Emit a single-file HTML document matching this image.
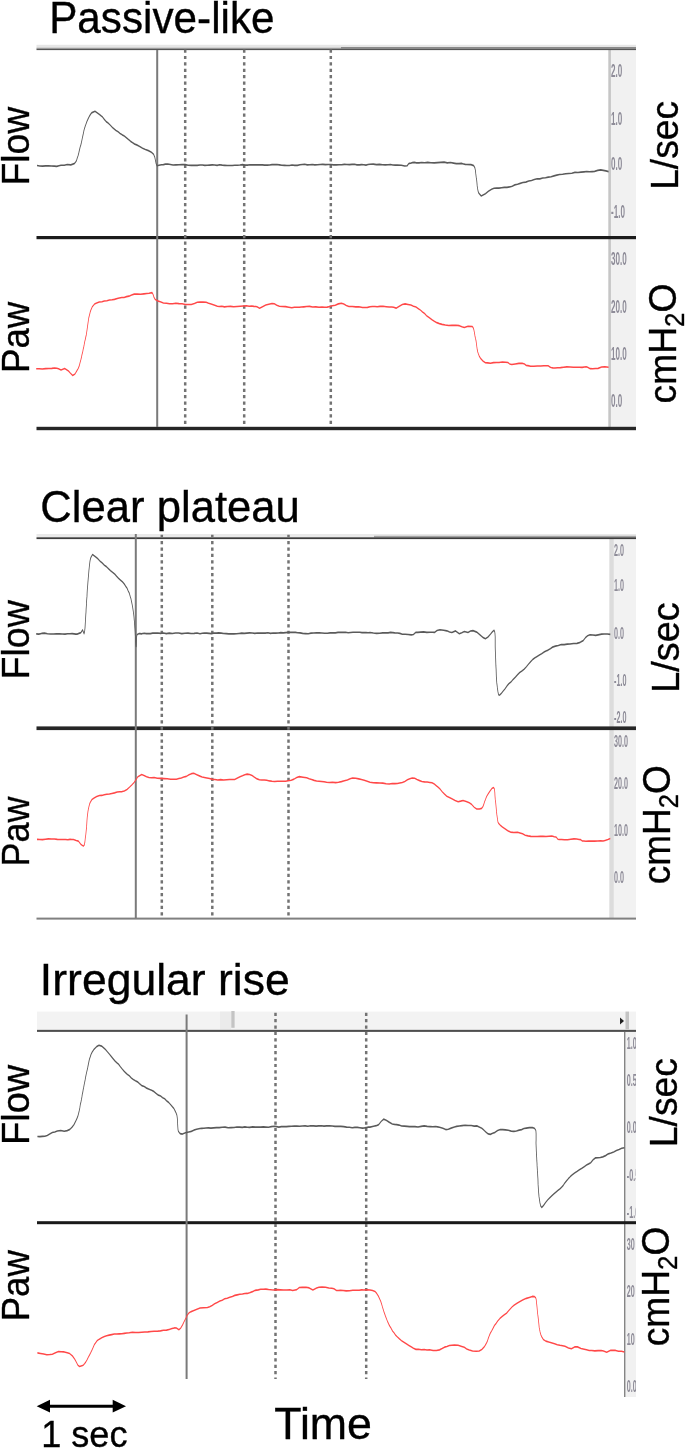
<!DOCTYPE html>
<html><head><meta charset="utf-8"><style>
html,body{margin:0;padding:0;background:#fff;width:685px;height:1448px;overflow:hidden}
svg{display:block;will-change:transform}
text{font-family:"Liberation Sans",sans-serif}
.lb{stroke:#000;stroke-width:0.35px}
</style></head><body>
<svg width="685" height="1448" viewBox="0 0 685 1448">
<text class="lb" x="49.2" y="33.2" font-size="44" textLength="225.33" lengthAdjust="spacingAndGlyphs">Passive-like</text>
<text class="lb" x="40.36" y="521.5" font-size="44" textLength="259.5" lengthAdjust="spacingAndGlyphs">Clear plateau</text>
<text class="lb" x="39.89" y="995.2" font-size="44" textLength="249.91" lengthAdjust="spacingAndGlyphs">Irregular rise</text>
<rect x="609" y="49" width="27" height="380" fill="#f1f1f1"/>
<rect x="608.3" y="49" width="2.6" height="380" fill="#c6c6c6"/>
<rect x="36.5" y="44.8" width="599.5" height="2.5" fill="#e6e6e6"/>
<rect x="36.5" y="47.3" width="304.5" height="1.2" fill="#c4c4c4"/>
<rect x="341" y="47" width="295" height="1.5" fill="#8a8a8a"/>
<rect x="36.5" y="48.5" width="599.5" height="1.6" fill="#555"/>
<rect x="36.5" y="236" width="599.5" height="3.2" fill="#1c1c1c"/>
<rect x="36.5" y="426.8" width="599.5" height="3.4" fill="#262626"/>
<line x1="157.2" y1="50" x2="157.2" y2="427" stroke="#7a7a7a" stroke-width="2"/>
<line x1="185.2" y1="49.5" x2="185.2" y2="427" stroke="#737373" stroke-width="2.5" stroke-dasharray="3.2 3.2"/>
<line x1="244.2" y1="49.5" x2="244.2" y2="427" stroke="#737373" stroke-width="2.5" stroke-dasharray="3.2 3.2"/>
<line x1="330.8" y1="49.5" x2="330.8" y2="427" stroke="#737373" stroke-width="2.5" stroke-dasharray="3.2 3.2"/>
<filter id="bl" x="-20%" y="-20%" width="140%" height="140%"><feGaussianBlur stdDeviation="0.45"/></filter>
<text transform="translate(611,77.0) scale(0.45,1)" font-size="18" style="fill:#8e8c98;font-weight:bold" filter="url(#bl)">2.0</text>
<text transform="translate(611,124.9) scale(0.45,1)" font-size="18" style="fill:#8e8c98;font-weight:bold" filter="url(#bl)">1.0</text>
<text transform="translate(611,169.9) scale(0.45,1)" font-size="18" style="fill:#8e8c98;font-weight:bold" filter="url(#bl)">0.0</text>
<text transform="translate(611,217.8) scale(0.45,1)" font-size="18" style="fill:#8e8c98;font-weight:bold" filter="url(#bl)">-1.0</text>
<text transform="translate(611,264.9) scale(0.45,1)" font-size="18" style="fill:#8e8c98;font-weight:bold" filter="url(#bl)">30.0</text>
<text transform="translate(611,312.8) scale(0.45,1)" font-size="18" style="fill:#8e8c98;font-weight:bold" filter="url(#bl)">20.0</text>
<text transform="translate(611,360.0) scale(0.45,1)" font-size="18" style="fill:#8e8c98;font-weight:bold" filter="url(#bl)">10.0</text>
<text transform="translate(611,407.3) scale(0.45,1)" font-size="18" style="fill:#8e8c98;font-weight:bold" filter="url(#bl)">0.0</text>
<rect x="609.4" y="539" width="26.6" height="380" fill="#f2f2f2"/>
<rect x="609.4" y="539" width="4.3" height="380" fill="#dcdcdc"/>
<rect x="36.5" y="534" width="599.5" height="3.3" fill="#e9e9e9"/>
<rect x="374" y="535.8" width="262" height="1.6" fill="#a4a4a4"/>
<rect x="36.5" y="537.3" width="599.5" height="1.8" fill="#3c3c3c"/>
<rect x="36.5" y="726.4" width="599.5" height="3.7" fill="#262626"/>
<rect x="36.5" y="917.6" width="599.5" height="2" fill="#808080"/>
<line x1="135.8" y1="534" x2="135.8" y2="918" stroke="#7a7a7a" stroke-width="2"/>
<line x1="161.8" y1="534.64" x2="161.8" y2="918" stroke="#737373" stroke-width="2.5" stroke-dasharray="3.2 3.2"/>
<line x1="212.3" y1="534.64" x2="212.3" y2="918" stroke="#737373" stroke-width="2.5" stroke-dasharray="3.2 3.2"/>
<line x1="288.5" y1="534.64" x2="288.5" y2="918" stroke="#737373" stroke-width="2.5" stroke-dasharray="3.2 3.2"/>
<text transform="translate(614,555.9) scale(0.45,1)" font-size="16" style="fill:#8e8c98;font-weight:bold" filter="url(#bl)">2.0</text>
<text transform="translate(614,591.3) scale(0.45,1)" font-size="16" style="fill:#8e8c98;font-weight:bold" filter="url(#bl)">1.0</text>
<text transform="translate(614,639.1) scale(0.45,1)" font-size="16" style="fill:#8e8c98;font-weight:bold" filter="url(#bl)">0.0</text>
<text transform="translate(614,686.3) scale(0.45,1)" font-size="16" style="fill:#8e8c98;font-weight:bold" filter="url(#bl)">-1.0</text>
<text transform="translate(614,723.0) scale(0.45,1)" font-size="16" style="fill:#8e8c98;font-weight:bold" filter="url(#bl)">-2.0</text>
<text transform="translate(614,746.8) scale(0.45,1)" font-size="16" style="fill:#8e8c98;font-weight:bold" filter="url(#bl)">30.0</text>
<text transform="translate(614,788.9) scale(0.45,1)" font-size="16" style="fill:#8e8c98;font-weight:bold" filter="url(#bl)">20.0</text>
<text transform="translate(614,836.0) scale(0.45,1)" font-size="16" style="fill:#8e8c98;font-weight:bold" filter="url(#bl)">10.0</text>
<text transform="translate(614,883.1) scale(0.45,1)" font-size="16" style="fill:#8e8c98;font-weight:bold" filter="url(#bl)">0.0</text>
<rect x="37" y="1011.6" width="599" height="17.6" fill="#f3f3f3"/>
<rect x="220" y="1011.6" width="11" height="17.6" fill="#ebebeb"/>
<rect x="231.3" y="1011" width="3.3" height="16.8" fill="#c4c4c4"/>
<rect x="625.5" y="1011.6" width="3.5" height="17.6" fill="#c4c4c4"/>
<path d="M620,1017.5 L624,1021 L620,1024.5 Z" fill="#222"/>
<rect x="37" y="1029.8" width="599" height="2.1" fill="#4e4e4e"/>
<rect x="625" y="1032" width="11" height="365" fill="#f1f1f1"/>
<rect x="624" y="1032" width="1.4" height="365" fill="#858585"/>
<rect x="37" y="1221.2" width="599" height="3" fill="#1a1a1a"/>
<line x1="186.6" y1="1014.5" x2="186.6" y2="1379" stroke="#7a7a7a" stroke-width="2"/>
<line x1="275.5" y1="1012.7" x2="275.5" y2="1379" stroke="#737373" stroke-width="2.5" stroke-dasharray="3.2 3.2"/>
<line x1="366.2" y1="1012.7" x2="366.2" y2="1379" stroke="#737373" stroke-width="2.5" stroke-dasharray="3.2 3.2"/>
<clipPath id="c3"><rect x="624" y="1030" width="12" height="370"/></clipPath>
<g clip-path="url(#c3)"><text transform="translate(626.8,1048.7) scale(0.45,1)" font-size="16" style="fill:#8e8c98;font-weight:bold" filter="url(#bl)">1.0</text>
<text transform="translate(626.8,1085.5) scale(0.45,1)" font-size="16" style="fill:#8e8c98;font-weight:bold" filter="url(#bl)">0.5</text>
<text transform="translate(626.8,1133.3) scale(0.45,1)" font-size="16" style="fill:#8e8c98;font-weight:bold" filter="url(#bl)">0.0</text>
<text transform="translate(626.8,1181.1) scale(0.45,1)" font-size="16" style="fill:#8e8c98;font-weight:bold" filter="url(#bl)">-0.5</text>
<text transform="translate(626.8,1217.9) scale(0.45,1)" font-size="16" style="fill:#8e8c98;font-weight:bold" filter="url(#bl)">-1.0</text><text transform="translate(626.8,1249.5) scale(0.45,1)" font-size="16" style="fill:#8e8c98;font-weight:bold" filter="url(#bl)">30</text>
<text transform="translate(626.8,1296.7) scale(0.45,1)" font-size="16" style="fill:#8e8c98;font-weight:bold" filter="url(#bl)">20</text>
<text transform="translate(626.8,1344.5) scale(0.45,1)" font-size="16" style="fill:#8e8c98;font-weight:bold" filter="url(#bl)">10</text>
<text transform="translate(626.8,1392.4) scale(0.45,1)" font-size="16" style="fill:#8e8c98;font-weight:bold" filter="url(#bl)">0.0</text></g>
<g transform="scale(1,2.0)">
<polyline points="37.0,82.74 39.8,82.98 42.6,83.09 45.6,82.93 48.5,82.97 51.4,82.98 54.2,83.08 56.7,83.17 59.0,82.87 61.0,82.64 64.3,82.60 67.2,82.23 70.8,82.44 74.2,81.83 75.4,81.19 76.5,80.33 77.3,78.94 78.1,77.81 78.8,76.47 79.6,74.72 80.2,73.43 80.9,72.36 81.4,71.33 82.0,69.88 82.6,68.40 83.2,67.08 83.8,65.61 84.4,64.37 85.1,63.30 85.8,62.32 86.9,60.78 88.2,59.32 89.5,58.00 90.7,57.04 92.0,56.29 95.0,55.65 97.1,56.35 99.5,57.23 101.0,57.91 102.6,58.54 104.4,59.74 106.2,60.82 108.1,61.53 110.0,62.44 111.9,63.45 113.9,64.36 116.0,65.28 118.1,65.87 120.1,66.71 122.2,67.42 124.3,68.00 126.4,68.83 128.5,69.80 130.6,70.68 132.7,71.35 134.7,72.06 136.7,72.44 139.7,73.23 142.6,74.14 145.4,74.78 148.4,75.33 151.4,76.14 153.6,77.11 154.7,78.47 155.3,79.80 156.0,81.61 157.0,82.89 159.0,82.62 160.1,82.49 161.6,82.35 163.4,82.31 165.5,82.08 167.8,81.98 170.4,82.23 173.1,82.49 176.0,82.46 179.0,82.37 182.0,82.24 185.1,82.34 188.2,82.62 191.3,82.67 194.3,82.60 197.2,82.72 200.0,82.49 202.4,82.50 204.8,82.70 207.2,82.64 209.7,82.55 212.2,82.42 214.6,82.48 217.1,82.70 219.6,82.38 222.2,82.57 224.7,82.68 227.2,82.76 229.8,82.74 232.3,82.76 234.8,82.64 237.4,82.60 239.9,82.51 242.5,82.31 245.0,82.57 247.5,82.57 250.0,82.40 252.5,82.45 255.0,82.47 257.4,82.42 259.9,82.39 262.3,82.46 264.7,82.54 267.2,82.57 269.6,82.52 272.0,82.30 274.5,82.28 276.9,82.25 279.4,82.41 281.9,82.62 284.4,82.70 286.9,82.74 289.5,82.76 292.0,82.52 294.7,82.67 297.3,82.66 300.0,82.39 302.3,82.23 304.7,82.14 307.2,82.43 309.7,82.35 312.2,82.24 314.8,82.42 317.4,82.38 320.1,82.23 322.8,82.20 325.5,82.34 328.2,82.25 330.9,82.25 333.6,82.44 336.3,82.42 339.0,82.35 341.6,82.38 344.3,82.19 346.9,82.26 349.5,82.30 352.0,82.22 354.5,82.14 356.9,82.46 359.3,82.44 361.6,82.29 363.8,82.39 366.0,82.54 368.0,82.25 370.0,82.11 373.3,82.09 376.5,82.33 379.5,82.18 382.5,82.35 385.3,82.41 388.0,82.38 390.5,82.23 392.9,82.50 395.2,82.58 397.3,82.52 401.3,82.60 404.8,83.01 407.2,82.87 408.5,81.92 409.4,81.66 410.6,81.62 412.3,81.29 414.2,81.19 416.5,81.42 419.0,81.47 421.7,81.23 424.6,81.36 427.7,81.18 430.9,81.39 434.2,81.42 437.5,81.31 440.8,81.20 444.1,81.07 447.3,81.43 450.5,81.27 453.5,81.58 456.3,81.84 459.0,81.83 461.4,81.69 463.5,81.97 465.3,82.20 466.8,82.23 471.0,82.29 473.7,82.80 474.8,83.78 475.4,85.14 475.8,86.95 476.2,88.57 476.6,89.79 476.9,91.20 477.2,92.95 477.6,94.34 478.1,95.66 478.7,96.54 481.2,98.01 485.4,96.89 488.4,95.59 491.6,94.62 494.0,94.13 496.6,94.08 498.9,94.03 501.6,93.85 504.3,93.68 507.0,93.67 509.6,93.47 512.2,93.13 514.8,92.42 517.5,92.11 520.2,91.71 522.9,91.25 525.8,91.07 528.7,90.48 531.5,90.26 534.3,89.72 537.1,89.37 539.9,89.41 542.7,88.98 545.5,88.87 548.3,88.59 551.1,88.40 554.0,87.95 556.8,87.57 559.5,87.23 562.6,87.15 565.7,86.85 568.7,86.74 571.8,86.60 574.9,86.21 578.0,86.25 581.0,86.08 584.0,85.91 586.8,85.73 589.5,85.89 592.2,85.82 594.6,85.71 597.7,85.16 600.7,84.97 603.3,85.22 605.9,85.43 608.6,85.79" fill="none" stroke="#5a5a5a" stroke-width="0.82" stroke-linejoin="round"/>
<polyline points="36.2,316.96 38.8,317.06 41.6,316.72 44.5,316.58 47.5,316.86 50.5,316.98 53.5,317.02 56.5,316.89 59.4,316.97 62.2,317.02 65.0,317.04 67.6,316.85 70.0,316.87 72.1,316.84 74.1,316.94 75.7,317.08 77.1,317.08 80.9,316.33 82.6,314.97 84.1,316.83 84.4,316.30 84.7,315.27 85.0,314.06 85.2,312.40 85.4,310.61 85.6,309.02 85.8,307.26 86.0,306.10 86.1,304.72 86.3,303.25 86.5,301.95 86.6,300.49 86.8,299.21 87.0,298.07 87.1,296.64 87.3,294.99 87.5,293.81 87.7,292.51 87.9,291.21 88.1,290.05 88.3,288.86 88.6,287.20 88.9,285.35 89.2,283.92 89.5,282.49 89.9,280.80 90.3,279.74 90.8,278.86 92.5,277.26 95.8,278.49 97.6,279.28 99.8,280.44 102.0,281.41 104.4,282.60 106.4,283.31 108.5,284.39 110.6,285.42 112.8,286.22 114.9,287.15 116.8,288.23 118.7,289.21 120.6,290.10 122.4,290.92 124.1,291.87 125.5,292.98 127.0,294.05 128.2,295.51 129.3,296.60 130.2,298.19 131.0,299.47 131.7,301.20 132.2,302.37 132.6,303.51 133.0,304.74 133.4,306.06 133.7,307.29 134.0,308.54 134.2,309.75 134.5,311.21 134.7,312.96 134.9,314.24 135.1,315.58 135.3,317.52 135.5,319.33 135.6,321.05 135.8,322.11 136.0,323.12 136.2,323.20 136.3,322.48 136.4,320.42 136.6,318.26 137.2,317.23 139.2,316.76 140.1,316.80 141.3,316.95 142.7,316.73 144.3,316.60 146.1,316.83 148.1,316.73 150.3,316.81 152.7,316.54 155.2,316.55 157.8,316.48 160.5,316.66 163.4,316.50 166.3,316.81 169.3,316.55 172.4,316.74 175.5,316.52 178.6,316.52 181.8,316.78 184.9,316.61 188.0,316.54 191.1,316.74 194.1,316.70 197.1,316.52 200.0,316.85 202.2,316.64 204.5,316.48 206.8,316.53 209.1,316.68 211.4,316.81 213.8,316.58 216.3,316.57 218.7,316.42 221.2,316.53 223.7,316.73 226.2,316.81 228.7,316.92 231.3,316.91 233.9,316.94 236.5,316.89 239.1,316.75 241.7,316.57 244.3,316.67 246.9,316.56 249.6,316.41 252.2,316.48 254.8,316.71 257.5,316.48 260.1,316.57 262.7,316.53 265.3,316.56 267.9,316.40 270.5,316.69 273.1,316.51 275.7,316.58 278.2,316.52 280.7,316.31 283.2,316.45 285.7,316.32 288.2,316.22 290.6,316.16 293.0,316.18 295.4,316.16 297.7,316.39 300.0,316.45 302.7,316.69 305.5,316.78 308.2,316.85 311.0,316.54 313.7,316.48 316.5,316.36 319.2,316.45 321.9,316.50 324.7,316.61 327.4,316.62 330.1,316.42 332.7,316.39 335.4,316.42 338.0,316.19 340.6,316.10 343.1,316.21 345.7,316.13 348.1,316.37 350.6,316.27 353.0,316.15 355.3,316.13 357.6,316.14 359.8,316.14 362.0,316.28 364.1,316.32 366.1,316.27 368.1,316.40 370.0,316.27 373.4,316.52 376.6,316.66 379.7,316.61 382.7,316.46 385.5,316.41 388.1,316.43 390.5,316.22 392.7,316.31 394.8,316.45 397.6,316.52 399.9,316.66 402.3,317.10 405.1,317.15 408.2,317.27 411.2,317.46 413.4,317.24 415.9,316.12 417.8,316.21 420.4,316.06 423.6,315.91 426.8,316.20 430.0,316.12 432.6,316.12 434.5,316.21 437.0,315.26 439.9,314.87 443.6,315.10 446.9,315.41 449.6,315.99 451.9,316.24 455.6,315.46 459.3,316.89 461.8,316.38 464.3,315.74 468.0,316.27 470.5,315.52 473.0,315.30 476.7,316.04 478.7,316.91 481.0,317.91 483.3,318.83 485.4,319.34 488.0,318.53 490.3,317.18 492.4,315.88 494.1,315.18 494.7,315.93 495.0,316.92 495.2,318.41 495.2,319.94 495.2,321.34 495.2,323.19 495.3,324.93 495.4,326.15 495.5,327.36 495.6,328.62 495.7,330.04 495.8,331.66 495.9,332.98 496.1,334.50 496.2,335.96 496.3,337.58 496.4,338.97 496.6,340.32 496.8,341.47 497.0,342.26 497.4,343.96 497.9,345.76 498.4,347.02 499.0,347.65 500.0,347.33 501.2,346.81 502.9,345.71 504.8,344.56 506.9,343.03 508.8,341.90 510.9,341.04 513.1,339.71 515.3,338.65 517.5,337.42 519.7,336.25 521.9,335.48 524.1,334.58 526.3,333.43 528.5,332.05 530.6,330.85 532.8,329.69 535.0,328.88 537.1,328.22 539.4,327.50 541.6,326.90 543.8,326.08 546.0,325.50 548.1,325.04 550.3,324.41 552.5,323.57 555.4,323.07 558.3,322.76 561.3,322.28 564.2,322.29 567.2,322.08 570.0,322.02 573.6,321.75 577.0,321.68 580.2,321.16 583.2,320.30 585.3,318.92 587.6,317.88 590.0,317.41 592.9,317.49 595.7,317.70 598.1,317.42 601.6,317.07 604.2,317.02 607.3,317.02 610.3,317.17" fill="none" stroke="#5a5a5a" stroke-width="0.82" stroke-linejoin="round"/>
<polyline points="37.4,568.23 39.8,568.28 42.3,568.21 44.9,568.11 47.2,567.78 49.7,567.01 52.3,566.26 54.8,566.00 57.3,565.49 60.8,565.27 64.2,565.61 67.2,565.30 69.9,564.68 72.2,563.48 74.0,562.28 75.7,560.60 77.1,559.06 77.9,558.05 78.6,556.70 79.2,555.41 79.8,554.01 80.3,552.31 80.9,551.06 81.4,549.87 81.9,548.52 82.3,547.08 82.8,546.10 83.2,544.79 83.7,543.62 84.1,542.49 84.6,541.26 85.1,540.05 85.6,538.57 86.1,537.38 86.7,536.01 87.2,534.94 87.7,533.79 88.3,532.31 88.9,530.82 89.5,529.46 90.2,528.50 91.0,527.24 92.0,526.22 94.1,524.59 96.6,523.31 99.0,522.64 101.6,523.05 104.4,524.29 106.0,525.04 107.7,526.08 109.4,527.06 111.3,528.23 113.1,529.35 115.0,530.50 116.8,531.41 118.6,532.12 120.3,533.30 122.1,534.45 123.9,535.49 125.6,536.34 127.5,537.27 129.3,537.92 131.3,538.95 133.3,539.73 135.4,540.36 137.5,540.93 139.6,541.91 141.7,542.80 144.2,543.23 146.6,544.07 149.1,544.62 151.6,545.13 154.1,545.83 156.2,546.71 158.4,547.57 160.6,548.00 162.7,548.85 164.7,549.40 166.5,550.34 168.6,551.19 170.6,552.32 172.4,553.40 173.9,554.24 175.2,555.54 176.1,556.49 176.9,557.64 177.3,559.00 177.5,560.28 177.6,561.82 177.8,563.41 178.0,564.85 178.4,565.68 180.1,566.81 182.4,567.03 185.5,566.36 188.8,566.02 191.3,565.71 193.8,565.09 196.6,564.61 200.0,564.27 201.8,564.21 203.8,564.11 206.0,564.02 208.4,563.97 210.9,564.07 213.6,563.91 216.4,563.78 219.2,563.84 222.2,563.65 225.1,563.58 228.1,563.85 231.0,563.78 234.0,563.76 236.9,563.51 239.7,563.56 242.3,563.66 244.9,563.45 247.3,563.61 249.6,563.68 252.7,563.43 255.5,563.55 258.2,563.52 260.7,563.59 263.3,563.47 265.8,563.56 268.5,563.60 271.3,563.29 274.4,563.13 276.6,563.32 278.9,563.54 281.3,563.31 283.8,563.27 286.3,563.30 288.9,563.17 291.5,563.11 294.2,563.05 296.9,563.02 299.6,563.10 302.4,562.99 305.1,562.96 307.9,563.12 310.6,562.85 313.4,562.96 316.1,563.08 318.8,562.95 321.4,562.85 324.0,563.06 326.7,562.93 329.4,562.87 332.2,562.99 335.0,563.21 337.9,563.10 340.8,563.18 343.7,563.28 346.6,563.59 349.4,563.62 352.2,563.85 354.9,563.69 357.4,563.70 359.9,563.86 362.3,564.04 364.5,563.92 366.5,563.73 368.4,563.53 370.0,563.56 373.6,563.10 376.3,562.84 378.7,562.32 381.2,560.69 383.6,559.57 386.2,560.10 389.1,561.06 392.3,561.99 394.5,562.16 396.7,562.28 399.1,562.53 401.6,562.98 404.3,563.06 407.2,563.19 409.5,563.29 412.2,563.32 415.0,563.31 418.0,563.49 421.1,563.20 424.2,562.95 427.2,563.21 430.2,563.30 432.9,563.40 435.5,563.23 437.7,563.43 439.5,563.63 442.9,564.10 445.7,564.78 448.3,564.64 451.1,564.04 454.4,563.50 456.6,563.21 459.3,563.02 462.1,562.83 465.1,562.63 468.2,562.77 471.3,562.74 474.2,563.03 476.9,562.96 479.2,563.50 481.8,564.16 484.1,565.18 486.1,566.17 488.2,566.96 490.3,567.20 492.7,566.66 495.1,566.17 497.6,565.26 500.3,564.75 502.8,564.83 505.5,564.96 508.3,565.13 511.2,565.57 513.9,565.67 516.4,565.50 519.1,565.07 521.6,564.79 523.9,564.24 526.3,564.05 529.4,563.83 532.4,563.80 534.5,564.15 535.6,564.92 535.9,565.48 536.1,566.78 536.1,568.31 536.1,569.89 536.0,571.53 536.1,572.76 536.2,573.97 536.3,575.31 536.4,576.26 536.5,577.50 536.7,578.79 536.8,580.24 537.0,581.59 537.1,582.96 537.3,584.44 537.4,585.46 537.6,586.61 537.7,587.79 537.9,589.13 538.0,590.46 538.1,592.21 538.3,593.69 538.4,594.71 538.6,596.01 538.8,597.13 539.0,598.20 539.3,599.21 539.9,601.27 540.7,602.99 541.7,603.71 543.5,602.76 545.7,601.19 547.7,599.93 549.8,598.84 552.1,597.80 554.0,596.91 556.1,596.00 558.1,595.18 560.1,594.37 561.8,593.54 563.4,592.59 565.0,591.34 566.6,590.39 568.2,589.42 570.3,588.30 572.3,587.34 574.6,586.48 576.9,585.76 579.4,584.85 581.9,584.13 584.2,583.33 586.5,582.51 588.7,581.94 590.7,581.37 593.1,579.91 595.5,578.94 600.3,578.76 602.8,578.44 605.6,577.82 608.3,576.92 611.0,576.50 613.7,576.00 616.4,575.26 619.1,574.75 621.7,574.10 624.4,573.85" fill="none" stroke="#5a5a5a" stroke-width="0.82" stroke-linejoin="round"/>
<polyline points="36.2,184.38 39.1,184.38 42.3,184.49 45.6,184.32 48.8,184.22 51.8,184.20 54.5,184.04 56.8,184.14 58.5,184.33 61.0,185.03 64.7,184.20 68.5,185.52 70.6,186.70 72.7,187.76 75.0,187.00 77.1,185.16 78.2,184.26 79.2,183.04 80.0,181.49 80.9,179.84 81.5,178.57 82.0,177.28 82.6,176.21 83.1,174.85 83.7,173.56 84.2,172.28 84.7,170.88 85.3,169.70 85.8,168.44 86.3,167.41 86.7,166.06 87.1,164.72 87.5,163.28 87.9,161.92 88.3,160.48 88.7,159.05 89.2,158.04 89.7,157.02 90.2,156.02 90.8,155.12 92.4,153.30 94.5,152.06 96.7,151.46 99.2,151.01 102.0,150.89 104.3,150.54 106.9,150.38 109.5,149.97 112.1,149.87 114.4,149.68 118.1,149.13 121.8,148.79 124.1,148.74 126.5,148.31 129.0,148.07 131.6,147.55 134.2,147.06 137.3,147.02 140.6,147.09 143.9,146.93 146.8,146.75 149.1,146.64 152.1,146.31 153.1,147.25 153.9,148.56 155.3,149.81 157.5,150.43 160.3,150.88 163.4,151.51 166.5,151.66 169.5,151.87 172.6,151.84 175.8,151.66 178.9,151.82 182.1,151.83 185.3,152.21 188.4,152.25 191.3,152.29 194.4,151.79 197.3,151.15 200.0,151.00 203.1,151.06 206.2,151.16 208.6,151.67 211.1,152.00 214.0,152.52 217.4,153.11 219.4,153.25 221.8,153.12 224.5,153.43 227.4,153.27 230.5,153.19 233.7,153.35 237.0,153.23 240.2,153.14 243.4,153.00 246.4,152.92 249.2,153.08 251.7,153.04 253.9,153.19 255.7,153.23 257.0,153.35 259.6,154.16 262.5,153.40 265.8,152.47 268.9,152.12 272.0,151.76 274.3,151.92 276.8,152.66 279.4,153.17 282.3,153.24 285.6,153.32 288.8,153.62 291.8,153.84 294.3,153.58 296.5,153.66 299.3,153.64 301.3,153.54 303.8,153.44 306.6,153.28 309.6,153.19 312.7,153.54 315.9,153.44 319.0,153.58 322.0,153.47 324.7,153.62 327.1,153.57 329.0,153.36 332.4,152.91 335.2,152.66 338.3,151.94 341.4,151.61 343.8,152.04 346.3,152.79 348.9,153.25 352.3,153.26 355.8,153.45 358.8,153.36 362.5,153.78 364.9,153.78 367.5,153.69 370.0,153.41 372.4,153.29 375.0,153.27 377.2,153.35 380.0,153.18 383.1,153.17 386.2,153.37 389.2,153.53 391.8,153.53 393.6,153.62 396.1,154.07 398.9,153.20 402.3,152.22 405.1,151.94 408.0,152.26 410.9,152.54 413.5,153.13 416.0,153.48 418.4,154.32 420.5,155.07 422.5,156.01 424.6,156.77 426.9,158.03 429.4,158.86 432.0,159.88 434.3,160.63 436.8,161.32 439.4,161.81 442.0,162.18 445.3,162.53 448.7,162.77 451.9,162.68 455.8,162.66 459.3,162.82 461.9,163.41 464.3,163.70 468.0,163.16 472.2,163.23 473.2,163.86 473.9,164.98 474.4,166.28 474.9,167.80 475.5,169.26 476.0,170.27 476.4,171.70 476.8,173.26 477.2,174.67 477.7,175.93 478.4,176.95 479.2,178.03 480.9,179.40 482.9,180.47 485.4,181.40 487.7,181.45 490.5,181.63 493.4,181.31 496.4,181.29 499.0,181.22 502.4,181.04 505.5,181.09 507.9,181.21 509.6,181.95 511.8,182.23 515.2,181.98 518.9,181.68 522.2,181.66 524.5,181.98 526.3,182.72 528.0,182.82 530.6,183.13 533.8,183.13 537.3,182.98 540.7,183.03 543.9,182.83 546.5,182.90 548.2,182.87 549.9,183.48 551.1,183.75 552.8,183.94 555.0,184.01 557.6,183.83 560.5,183.80 563.6,183.64 566.8,183.45 570.1,183.47 573.4,183.59 576.5,183.64 579.4,183.60 582.1,183.69 584.4,183.50 586.3,183.42 587.6,183.58 590.2,184.32 592.6,184.36 595.5,184.29 598.1,184.19 601.6,183.54 604.9,183.41 608.6,183.65" fill="none" stroke="#ff4848" stroke-width="0.78" stroke-linejoin="round"/>
<polyline points="37.0,419.69 39.7,419.77 42.5,419.81 45.4,419.61 48.4,419.45 51.4,419.51 54.4,419.50 57.3,419.70 60.2,419.76 62.9,419.76 65.5,419.76 67.8,419.83 70.0,419.69 71.8,419.78 73.4,419.78 76.2,420.30 78.4,420.56 81.1,422.28 83.3,423.06 84.3,422.50 84.9,420.94 85.3,419.04 85.8,417.30 86.1,415.85 86.4,414.39 86.6,413.23 86.8,411.70 87.0,410.01 87.2,408.79 87.5,407.49 87.9,405.91 88.3,404.75 89.0,403.15 89.7,401.82 90.7,400.78 92.0,399.70 94.1,399.03 96.7,398.29 99.5,397.78 101.8,397.70 104.2,397.40 106.8,397.16 109.4,397.01 111.9,396.75 114.5,396.43 117.2,396.00 119.8,395.92 122.2,395.80 124.3,395.53 127.0,394.73 129.3,393.70 131.9,392.44 134.2,391.21 136.0,389.82 137.9,388.35 141.7,387.29 144.0,387.71 146.6,388.39 148.9,388.77 151.5,388.87 154.1,388.78 157.3,389.13 160.6,389.18 164.0,389.31 167.3,389.37 170.6,389.58 173.9,389.61 176.4,389.63 178.9,389.21 181.3,389.00 183.8,388.55 186.4,388.19 189.0,387.36 191.5,386.82 193.8,386.65 196.8,387.36 200.0,388.06 202.1,388.47 204.4,388.71 206.9,388.97 209.6,389.28 212.4,389.69 214.9,389.73 217.7,389.98 220.6,389.82 223.6,390.04 226.6,389.91 229.5,389.73 232.2,389.77 234.7,389.74 237.5,389.03 240.0,388.38 242.4,387.92 244.8,387.34 247.1,387.07 249.6,387.21 252.1,387.75 254.5,388.64 257.1,389.44 259.4,389.88 261.8,390.01 264.3,389.97 266.8,390.13 269.5,390.45 272.0,390.66 274.7,390.72 277.5,390.61 280.3,390.66 283.0,390.63 285.7,390.60 288.1,390.33 291.2,390.10 294.0,389.56 296.7,388.71 299.3,388.31 303.0,388.59 306.7,388.86 309.1,389.38 311.6,389.72 314.1,390.18 316.6,390.54 319.0,390.62 321.5,390.77 324.0,390.89 326.6,391.15 329.4,391.29 332.4,391.13 335.5,391.31 338.5,391.12 341.4,390.81 344.4,390.38 347.3,389.99 350.1,389.35 352.6,389.00 355.7,389.10 358.8,389.44 361.4,389.75 364.2,390.09 367.2,390.59 370.0,391.10 373.3,391.38 376.5,391.45 379.9,391.46 382.9,391.57 386.1,391.88 389.3,392.01 392.3,391.79 394.9,391.82 397.4,391.76 399.8,391.50 402.3,391.21 404.8,390.72 407.4,389.92 409.8,389.39 412.2,389.00 414.7,389.12 417.0,389.76 419.6,390.31 421.9,390.78 424.5,390.95 427.2,391.03 429.8,391.22 432.0,391.34 434.3,392.02 436.3,392.86 438.2,393.64 440.3,394.66 442.3,395.93 444.4,397.03 446.8,398.09 449.4,398.76 451.9,399.37 455.1,400.22 458.1,400.83 460.6,400.57 463.1,400.21 466.2,400.73 469.3,401.41 471.8,402.30 474.3,403.69 476.7,404.54 479.3,404.54 481.7,404.19 482.9,403.36 483.8,402.14 484.6,400.81 485.5,399.70 486.6,398.26 488.3,396.84 490.3,395.30 492.2,394.09 493.6,393.78 494.4,394.41 494.8,396.16 495.0,398.01 495.3,399.95 495.6,400.98 495.9,402.42 496.2,404.02 496.5,405.74 496.8,407.12 497.2,408.58 497.6,410.02 498.0,411.13 498.5,411.64 500.0,412.46 502.4,413.54 505.3,414.46 507.8,415.39 510.5,416.05 513.8,416.21 517.5,416.09 520.0,416.47 522.6,416.92 525.2,417.60 528.0,417.93 530.9,418.18 534.0,418.24 537.1,418.24 540.3,418.20 543.0,418.20 546.0,418.28 549.0,418.17 551.9,418.04 554.3,418.35 556.0,418.46 557.8,419.58 559.3,419.73 561.6,419.71 564.4,419.86 567.6,419.90 570.8,419.65 574.0,419.43 576.8,419.53 579.1,419.71 580.6,419.81 582.3,420.47 583.8,420.50 585.9,420.62 588.6,420.55 591.5,420.57 594.6,420.55 597.7,420.50 600.6,420.43 603.1,420.50 605.1,420.21 607.9,419.75 610.3,419.27" fill="none" stroke="#ff4848" stroke-width="0.78" stroke-linejoin="round"/>
<polyline points="37.4,676.45 40.5,676.75 43.7,677.04 46.8,677.34 49.8,677.23 52.3,677.08 55.5,676.35 58.5,675.74 61.2,675.92 64.2,675.95 67.2,676.38 69.7,676.80 72.5,678.00 74.7,679.54 76.4,681.13 77.9,682.63 79.6,683.25 83.3,682.58 84.6,681.79 85.8,681.00 87.1,679.88 88.3,678.63 89.6,677.43 90.8,676.26 91.9,675.09 93.1,673.79 94.3,672.35 95.6,671.39 97.0,670.42 99.3,669.57 101.7,668.88 104.4,668.27 106.6,667.86 109.1,667.57 111.7,667.30 114.3,666.99 116.8,667.03 119.3,666.94 121.8,666.89 124.3,666.68 126.8,666.47 129.3,666.41 132.4,666.14 135.5,666.27 138.6,666.26 141.7,666.12 144.8,665.98 147.9,665.95 151.0,665.75 154.1,665.66 157.2,665.62 160.4,665.45 163.5,665.17 166.5,665.06 169.2,664.70 172.0,664.27 174.4,663.95 176.4,663.99 178.9,664.90 180.7,664.04 182.6,662.45 183.7,661.28 184.8,660.14 186.0,659.02 187.3,657.57 188.8,656.52 191.2,655.81 193.9,655.25 196.3,654.73 200.0,654.03 203.4,653.86 207.4,653.71 209.7,653.36 212.1,652.77 214.6,651.84 217.2,651.28 219.9,650.52 222.2,650.11 224.7,649.42 227.2,649.17 229.8,648.67 232.3,648.27 234.8,647.69 237.2,647.43 239.8,647.17 242.4,646.99 244.9,646.76 247.3,646.70 249.6,646.38 252.5,645.82 255.2,645.18 258.3,644.93 260.7,644.66 263.2,644.60 265.9,644.55 268.6,644.79 271.5,644.91 274.4,644.96 277.2,644.80 280.3,644.93 283.5,645.00 286.8,644.97 289.9,644.92 292.7,645.26 295.1,645.00 296.8,644.81 299.3,643.79 302.3,643.69 306.0,643.60 309.2,643.94 312.9,645.04 316.6,644.03 318.9,643.61 322.0,643.56 325.5,643.67 328.9,644.02 331.9,644.14 334.0,644.33 336.5,645.23 338.1,645.25 340.4,645.15 343.1,645.26 346.2,645.44 349.5,645.41 352.8,645.15 356.1,645.14 359.1,645.17 361.7,644.94 363.8,644.98 367.2,644.95 370.0,645.03 372.6,645.22 375.0,645.71 376.8,646.77 378.4,648.06 379.9,649.73 380.8,650.75 381.7,652.21 382.5,653.55 383.2,654.66 384.1,656.15 384.9,657.23 385.8,658.54 386.8,659.81 387.7,660.94 388.7,662.05 389.9,663.21 391.2,664.23 392.6,665.57 394.1,666.45 395.7,667.65 397.3,668.42 399.6,669.53 402.0,670.55 404.7,671.36 406.7,671.99 408.9,672.71 411.1,673.39 413.5,674.13 415.9,674.69 418.5,674.66 421.3,674.84 424.2,674.74 427.0,674.96 429.6,674.90 433.1,675.22 436.4,675.28 439.5,674.94 442.1,674.27 444.5,673.57 446.9,673.23 449.4,672.75 451.9,672.60 454.4,672.51 458.1,672.66 461.8,673.27 464.3,673.67 466.7,674.47 469.3,675.04 472.6,675.52 476.1,675.59 479.2,675.53 481.8,674.72 484.1,673.52 485.2,672.69 486.3,671.72 487.4,670.57 488.4,668.99 489.5,667.56 490.5,666.42 491.6,665.49 493.1,664.09 494.5,662.71 496.1,661.73 497.8,660.45 499.8,659.28 502.1,658.28 504.3,657.33 506.5,656.63 508.5,655.41 510.3,654.41 512.1,653.43 514.0,652.62 517.0,651.63 520.0,650.70 523.1,649.84 526.4,649.18 529.3,648.72 532.3,648.20 534.5,648.31 535.7,648.90 536.2,649.72 536.5,651.17 536.8,652.52 537.1,653.96 537.4,655.67 537.7,657.07 538.0,658.14 538.3,659.39 538.6,660.79 538.9,662.19 539.2,663.74 539.6,664.79 540.1,666.01 540.9,667.49 541.9,668.56 543.3,669.73 545.8,670.56 548.8,671.05 552.1,671.46 554.6,671.85 557.3,672.39 560.0,672.66 562.7,672.83 565.0,673.16 568.5,674.04 571.4,674.40 574.6,673.45 577.5,673.44 581.0,674.22 584.2,674.58 586.6,674.85 589.1,675.28 591.7,675.29 594.8,675.44 598.1,675.31 601.2,675.27 603.5,675.50 606.7,676.11 610.7,675.18 612.9,675.14 615.6,675.20 618.5,675.61 621.5,675.59 624.4,676.00" fill="none" stroke="#ff4848" stroke-width="0.78" stroke-linejoin="round"/>
</g>
<text class="lb" transform="translate(28.9,146.11) rotate(-90)" text-anchor="middle" font-size="38.5" textLength="78.72" lengthAdjust="spacingAndGlyphs">Flow</text>
<text class="lb" transform="translate(28.9,639.9) rotate(-90)" text-anchor="middle" font-size="38.5" textLength="79.37" lengthAdjust="spacingAndGlyphs">Flow</text>
<text class="lb" transform="translate(28.9,1104.86) rotate(-90)" text-anchor="middle" font-size="38.5" textLength="80.16" lengthAdjust="spacingAndGlyphs">Flow</text>
<text class="lb" transform="translate(28.9,337.31) rotate(-90)" text-anchor="middle" font-size="38.5" textLength="71.27" lengthAdjust="spacingAndGlyphs">Paw</text>
<text class="lb" transform="translate(28.9,831.52) rotate(-90)" text-anchor="middle" font-size="38.5" textLength="70.0" lengthAdjust="spacingAndGlyphs">Paw</text>
<text class="lb" transform="translate(28.9,1285.75) rotate(-90)" text-anchor="middle" font-size="38.5" textLength="71.09" lengthAdjust="spacingAndGlyphs">Paw</text>
<text class="lb" transform="translate(677.6,145.43) rotate(-90)" text-anchor="middle" font-size="38.5" textLength="88.76" lengthAdjust="spacingAndGlyphs">L/sec</text>
<text class="lb" transform="translate(678.6,647.52) rotate(-90)" text-anchor="middle" font-size="38.5" textLength="90.25" lengthAdjust="spacingAndGlyphs">L/sec</text>
<text class="lb" transform="translate(677.3,1102.67) rotate(-90)" text-anchor="middle" font-size="38.5" textLength="88.97" lengthAdjust="spacingAndGlyphs">L/sec</text>
<text class="lb" transform="translate(675.5,343.5) rotate(-90)" text-anchor="middle" font-size="39" textLength="120.0" lengthAdjust="spacingAndGlyphs">cmH<tspan font-size="27" dy="8">2</tspan><tspan dy="-8">O</tspan></text>
<text class="lb" transform="translate(670.4,824.7) rotate(-90)" text-anchor="middle" font-size="39" textLength="118.98" lengthAdjust="spacingAndGlyphs">cmH<tspan font-size="27" dy="8">2</tspan><tspan dy="-8">O</tspan></text>
<text class="lb" transform="translate(669.3,1286.5) rotate(-90)" text-anchor="middle" font-size="39" textLength="119.61" lengthAdjust="spacingAndGlyphs">cmH<tspan font-size="27" dy="8">2</tspan><tspan dy="-8">O</tspan></text>
<line x1="44" y1="1406.2" x2="119" y2="1406.2" stroke="#000" stroke-width="3"/>
<path d="M36.7,1406.2 L50,1399.8 L50,1412.6 Z" fill="#000"/>
<path d="M126,1406.2 L112.7,1399.8 L112.7,1412.6 Z" fill="#000"/>
<text class="lb" x="41.2" y="1446.5" font-size="37" textLength="86.31" lengthAdjust="spacingAndGlyphs">1 sec</text>
<text class="lb" x="274.23" y="1438.8" font-size="44" textLength="97.75" lengthAdjust="spacingAndGlyphs">Time</text>
</svg>
</body></html>
